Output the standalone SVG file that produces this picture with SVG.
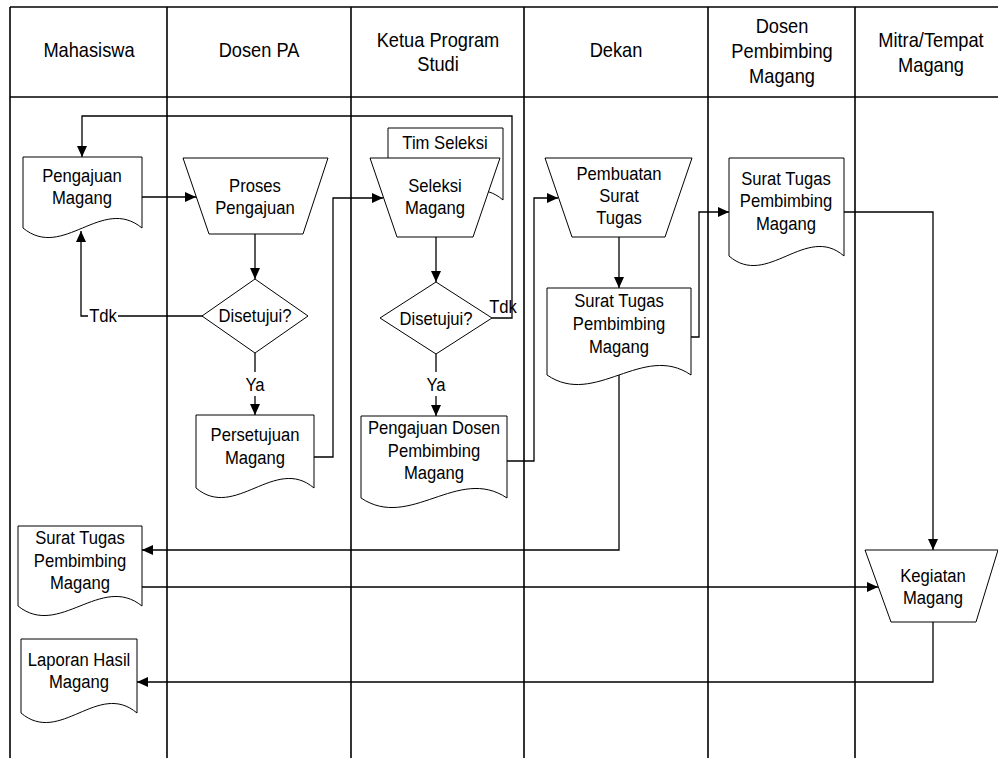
<svg xmlns="http://www.w3.org/2000/svg" width="998" height="758" viewBox="0 0 998 758">
  <style>
    .lane { stroke: #000; stroke-width: 1.6; fill: none; }
    .shape { fill: #fff; stroke: #000; stroke-width: 1; }
    .conn { fill: none; stroke: #000; stroke-width: 1.3; }
    .arr { marker-end: url(#arrow); }
    text { font-family: "Liberation Sans", Arial, sans-serif; fill: #000; text-anchor: middle; }
    .hd { font-size: 20.5px; }
    .tx { font-size: 18.5px; }
  </style>
  <defs>
    <marker id="arrow" markerUnits="userSpaceOnUse" markerWidth="11" markerHeight="10" refX="11" refY="5" orient="auto">
      <path d="M0,0 L11,5 L0,10 Z" fill="#000"/>
    </marker>
  </defs>
  <rect width="998" height="758" fill="#fff"/>

  <!-- swimlane grid; labels use a narrowed sans (scaleX) -->
  <g id="lanes">
    <line class="lane" x1="10" y1="7" x2="998" y2="7"/>
    <line class="lane" x1="10" y1="97" x2="998" y2="97"/>
    <line class="lane" x1="10" y1="7" x2="10" y2="758"/>
    <line class="lane" x1="167" y1="7" x2="167" y2="758"/>
    <line class="lane" x1="351" y1="7" x2="351" y2="758"/>
    <line class="lane" x1="524" y1="7" x2="524" y2="758"/>
    <line class="lane" x1="708" y1="7" x2="708" y2="758"/>
    <line class="lane" x1="855" y1="7" x2="855" y2="758"/>
    <text class="hd" transform="translate(89 57) scale(.89 1)">Mahasiswa</text>
    <text class="hd" transform="translate(259 57) scale(.89 1)">Dosen PA</text>
    <text class="hd" transform="translate(438 47) scale(.89 1)">Ketua Program</text>
    <text class="hd" transform="translate(438 71) scale(.89 1)">Studi</text>
    <text class="hd" transform="translate(616 57) scale(.89 1)">Dekan</text>
    <text class="hd" transform="translate(782 33) scale(.89 1)">Dosen</text>
    <text class="hd" transform="translate(782 58) scale(.89 1)">Pembimbing</text>
    <text class="hd" transform="translate(782 83) scale(.89 1)">Magang</text>
    <text class="hd" transform="translate(931 47) scale(.89 1)">Mitra/Tempat</text>
    <text class="hd" transform="translate(931 72) scale(.89 1)">Magang</text>
  </g>

  <!-- connectors -->
  <g id="connectors">
    <path class="conn arr" d="M142,197 H196"/>
    <path class="conn arr" d="M255,234 V279"/>
    <path class="conn" d="M203,316 H118"/>
    <path class="conn arr" d="M88,316 H81 V231"/>
    <text class="tx" transform="translate(103 322) scale(.9 1)">Tdk</text>
    <path class="conn" d="M255,353 V372"/>
    <text class="tx" transform="translate(255 391) scale(.9 1)">Ya</text>
    <path class="conn arr" d="M255,396 V415"/>
    <path class="conn arr" d="M314,457 H333 V198 H383"/>
    <path class="conn arr" d="M436,237 V282"/>
    <path class="conn arr" d="M492,318 H512 V116 H82 V157"/>
    <text class="tx" transform="translate(503 313) scale(.9 1)">Tdk</text>
    <path class="conn" d="M436,354 V372"/>
    <text class="tx" transform="translate(436 391) scale(.9 1)">Ya</text>
    <path class="conn arr" d="M436,396 V416"/>
    <path class="conn arr" d="M507,461 H534 V198 H558"/>
    <path class="conn arr" d="M619,237 V288"/>
    <path class="conn arr" d="M691,337 H699 V212 H729"/>
    <path class="conn arr" d="M619,375 V550 H142"/>
    <path class="conn arr" d="M142,587 H878"/>
    <path class="conn arr" d="M844,212 H933 V550"/>
    <path class="conn arr" d="M933,622 V682 H137"/>
  </g>

  <!-- Mahasiswa lane -->
  <g id="pengajuan-magang">
    <path class="shape" d="M23,157 H142 V228 C102,195 63,261 23,228 Z"/>
    <text class="tx" transform="translate(82 182) scale(.9 1)">Pengajuan</text>
    <text class="tx" transform="translate(82 204) scale(.9 1)">Magang</text>
  </g>
  <g id="surat-tugas-mahasiswa">
    <path class="shape" d="M18,526 H142 V606 C101,573 59,639 18,606 Z"/>
    <text class="tx" transform="translate(80 544) scale(.9 1)">Surat Tugas</text>
    <text class="tx" transform="translate(80 567) scale(.9 1)">Pembimbing</text>
    <text class="tx" transform="translate(80 589) scale(.9 1)">Magang</text>
  </g>
  <g id="laporan-hasil">
    <path class="shape" d="M21,639 H137 V713 C98,680 60,746 21,713 Z"/>
    <text class="tx" transform="translate(79 666) scale(.9 1)">Laporan Hasil</text>
    <text class="tx" transform="translate(79 688) scale(.9 1)">Magang</text>
  </g>

  <!-- Dosen PA lane -->
  <g id="proses-pengajuan">
    <path class="shape" d="M183,158 H328 L303,234 H209 Z"/>
    <text class="tx" transform="translate(255 192) scale(.9 1)">Proses</text>
    <text class="tx" transform="translate(255 214) scale(.9 1)">Pengajuan</text>
  </g>
  <g id="disetujui-pa">
    <path class="shape" d="M255,279 L308,316 L255,353 L202,316 Z"/>
    <text class="tx" transform="translate(255 322) scale(.9 1)">Disetujui?</text>
  </g>
  <g id="persetujuan-magang">
    <path class="shape" d="M196,415 H314 V488 C275,455 235,521 196,488 Z"/>
    <text class="tx" transform="translate(255 441) scale(.9 1)">Persetujuan</text>
    <text class="tx" transform="translate(255 464) scale(.9 1)">Magang</text>
  </g>

  <!-- Ketua Program Studi lane -->
  <g id="seleksi-magang">
    <path class="shape" d="M388,128 H503 V200 C465,167 426,233 388,200 Z"/>
    <text class="tx" transform="translate(445 149) scale(.9 1)">Tim Seleksi</text>
    <path class="shape" d="M370,158 H500 L473,237 H397 Z"/>
    <text class="tx" transform="translate(435 192) scale(.9 1)">Seleksi</text>
    <text class="tx" transform="translate(435 214) scale(.9 1)">Magang</text>
  </g>
  <g id="disetujui-kaprodi">
    <path class="shape" d="M436,282 L492,318 L436,354 L380,318 Z"/>
    <text class="tx" transform="translate(436 325) scale(.9 1)">Disetujui?</text>
  </g>
  <g id="pengajuan-dosen">
    <path class="shape" d="M361,416 H507 V498 C458,465 410,531 361,498 Z"/>
    <text class="tx" transform="translate(434 434) scale(.9 1)">Pengajuan Dosen</text>
    <text class="tx" transform="translate(434 457) scale(.9 1)">Pembimbing</text>
    <text class="tx" transform="translate(434 479) scale(.9 1)">Magang</text>
  </g>

  <!-- Dekan lane -->
  <g id="pembuatan-surat">
    <path class="shape" d="M545,158 H692 L665,237 H572 Z"/>
    <text class="tx" transform="translate(619 180) scale(.9 1)">Pembuatan</text>
    <text class="tx" transform="translate(619 202) scale(.9 1)">Surat</text>
    <text class="tx" transform="translate(619 224) scale(.9 1)">Tugas</text>
  </g>
  <g id="surat-tugas-dekan">
    <path class="shape" d="M547,288 H691 V375 C643,342 595,408 547,375 Z"/>
    <text class="tx" transform="translate(619 307) scale(.9 1)">Surat Tugas</text>
    <text class="tx" transform="translate(619 330) scale(.9 1)">Pembimbing</text>
    <text class="tx" transform="translate(619 353) scale(.9 1)">Magang</text>
  </g>

  <!-- Dosen Pembimbing Magang lane -->
  <g id="surat-tugas-dpm">
    <path class="shape" d="M729,158 H844 V256 C806,223 767,289 729,256 Z"/>
    <text class="tx" transform="translate(786 185) scale(.9 1)">Surat Tugas</text>
    <text class="tx" transform="translate(786 207) scale(.9 1)">Pembimbing</text>
    <text class="tx" transform="translate(786 230) scale(.9 1)">Magang</text>
  </g>

  <!-- Mitra/Tempat Magang lane -->
  <g id="kegiatan-magang">
    <path class="shape" d="M865,550 H998 L976,622 H891 Z"/>
    <text class="tx" transform="translate(933 582) scale(.9 1)">Kegiatan</text>
    <text class="tx" transform="translate(933 604) scale(.9 1)">Magang</text>
  </g>
</svg>
